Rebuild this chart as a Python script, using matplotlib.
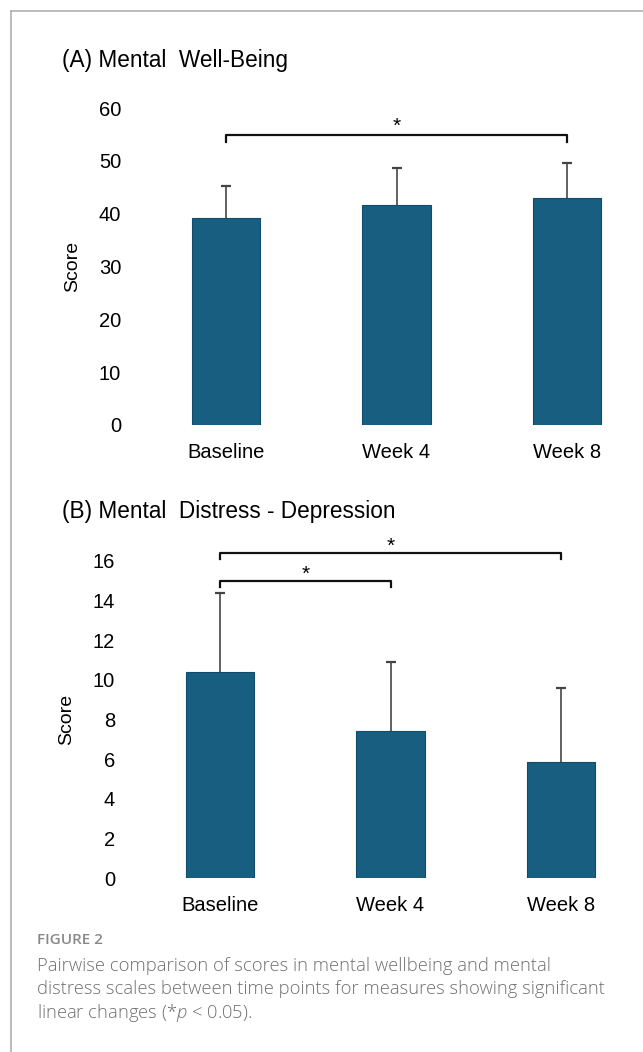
import matplotlib.pyplot as plt
from matplotlib.lines import Line2D

timepoints = ['Baseline', 'Week 4', 'Week 8']
wellbeing_mean = [39.2, 41.6, 43.0]
wellbeing_err = [6.0, 7.0, 6.6]
depression_mean = [10.4, 7.4, 5.85]
depression_err = [4.0, 3.5, 3.75]

bar_color = '#185e80'
edge_color = '#0f4c6b'
W, H = 643, 1052

plt.rcParams['font.family'] = ['Liberation Sans', 'DejaVu Sans']
plt.rcParams['mathtext.fontset'] = 'custom'
plt.rcParams['mathtext.it'] = 'Open Sans:italic:light'
plt.rcParams['mathtext.rm'] = 'Open Sans:light'
fig = plt.figure(figsize=(W / 100, H / 100), dpi=100)


def px_axes(left, top, right, bottom):
    return fig.add_axes([left / W, 1 - bottom / H, (right - left) / W, (bottom - top) / H])


def bar_panel(ax, means, errs, ymax, ystep):
    x = list(range(len(timepoints)))
    ax.bar(x, means, width=0.4, color=bar_color, edgecolor=edge_color, linewidth=0.8, zorder=2)
    # upper error bars only
    tops = [m + e for m, e in zip(means, errs)]
    ax.vlines(x, means, tops, color='#555555', lw=1.3, zorder=1)
    ax.plot(x, tops, ls='none', marker='_', ms=7, mew=1.6, color='#444444', zorder=1)
    ax.set_xlim(-0.6, 2.4)
    ax.set_ylim(0, ymax)
    ax.set_yticks(range(0, ymax + 1, ystep))
    ax.set_xticks(x)
    ax.set_xticklabels(timepoints)
    for s in ax.spines.values():
        s.set_visible(False)
    ax.tick_params(axis='both', length=0, labelsize=14.5)
    ax.tick_params(axis='y', pad=2)
    ax.tick_params(axis='x', pad=13)
    ax.set_ylabel('Score', fontsize=14, labelpad=13)


def bracket(ax, x0, x1, y, drop, star_y):
    ax.plot([x0, x0, x1, x1], [y - drop, y, y, y - drop], color='#111111', lw=1.6, clip_on=False)
    ax.text((x0 + x1) / 2, star_y, '*', ha='center', va='center', fontsize=15)


# (A) Mental Well-Being
ax1 = px_axes(124, 108, 635, 425)
bar_panel(ax1, wellbeing_mean, wellbeing_err, 60, 10)
bracket(ax1, 0, 2, 54.9, 1.3, 56.6)
fig.text(62 / W, 1 - 60 / H, '(A) Mental  Well-Being', fontsize=16.3, va='center', ha='left')

# (B) Mental Distress - Depression
ax2 = px_axes(118, 561, 629, 878)
bar_panel(ax2, depression_mean, depression_err, 16, 2)
bracket(ax2, 0, 2, 16.4, 0.3, 16.75)
bracket(ax2, 0, 1, 15.0, 0.3, 15.35)
fig.text(62 / W, 1 - 512 / H, '(B) Mental  Distress - Depression', fontsize=16.3, va='center', ha='left')

# frame lines
fig.add_artist(Line2D([10.5 / W, 10.5 / W], [0, 1 - 11 / H], color='#b0b0b0', lw=1.2))
fig.add_artist(Line2D([10.5 / W, 1], [1 - 11 / H, 1 - 11 / H], color='#b0b0b0', lw=1.2))

# caption
fig.text(37 / W, 1 - 940 / H, 'FIGURE 2', fontsize=11, color='#888888', va='center',
         family=['Open Sans', 'DejaVu Sans'], fontweight='semibold')
caption = ['Pairwise comparison of scores in mental wellbeing and mental',
           'distress scales between time points for measures showing significant',
           'linear changes (*$p$ < 0.05).']
for i, line in enumerate(caption):
    fig.text(37 / W, 1 - (966 + 23.5 * i) / H, line, fontsize=13.2, color='#707070', va='center',
             family=['Open Sans', 'DejaVu Sans'], fontweight='light')

fig.savefig('out.png', dpi=100)
